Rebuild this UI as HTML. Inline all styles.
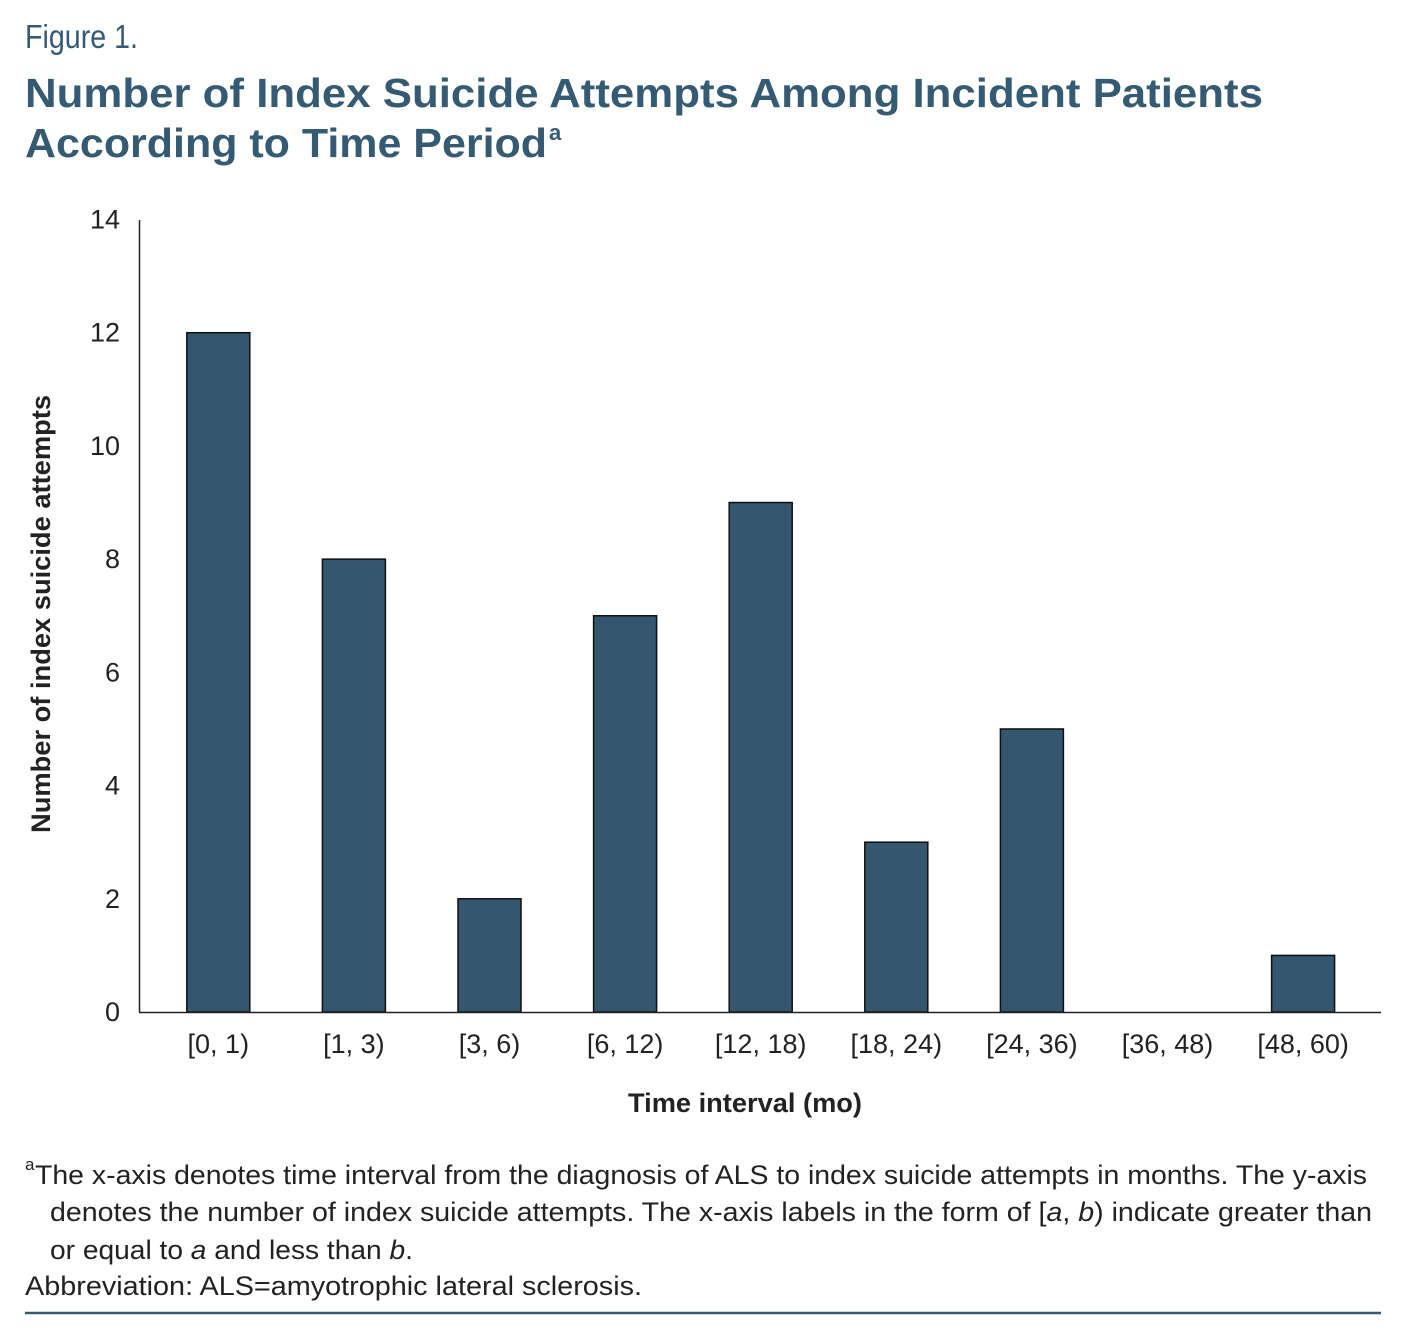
<!DOCTYPE html>
<html><head><meta charset="utf-8"><style>
html,body{margin:0;padding:0;background:#fff;}
svg{display:block;}
text{font-family:"Liberation Sans",sans-serif;}
</style></head><body>
<svg id="chart" width="1406" height="1335" viewBox="0 0 1406 1335" xmlns="http://www.w3.org/2000/svg">
<text x="25" y="48" font-size="33" fill="#355a74" textLength="113" lengthAdjust="spacingAndGlyphs">Figure 1.</text>
<text x="25" y="107" font-size="41" font-weight="bold" fill="#355a74" textLength="1238" lengthAdjust="spacingAndGlyphs">Number of Index Suicide Attempts Among Incident Patients</text>
<text x="25" y="157" font-size="41" font-weight="bold" fill="#355a74" textLength="522" lengthAdjust="spacingAndGlyphs">According to Time Period</text>
<text x="549" y="140" font-size="22" font-weight="bold" fill="#355a74">a</text>
<g id="plot"></g>
<line x1="139.5" y1="220" x2="139.5" y2="1012" stroke="#222" stroke-width="1.5"/>
<line x1="139" y1="1012.5" x2="1381" y2="1012.5" stroke="#222" stroke-width="1.5"/>
<text x="745" y="1112" font-size="27" font-weight="bold" fill="#222" text-anchor="middle" textLength="234" lengthAdjust="spacingAndGlyphs">Time interval (mo)</text>
<text transform="translate(50,614) rotate(-90)" font-size="27" font-weight="bold" fill="#222" text-anchor="middle" textLength="438" lengthAdjust="spacingAndGlyphs">Number of index suicide attempts</text>
<g font-size="27" fill="#222">
<text x="25" y="1170" font-size="17">a</text>
<text x="35" y="1184" textLength="1332" lengthAdjust="spacingAndGlyphs">The x-axis denotes time interval from the diagnosis of ALS to index suicide attempts in months. The y-axis</text>
<text x="50" y="1221" textLength="1322" lengthAdjust="spacingAndGlyphs">denotes the number of index suicide attempts. The x-axis labels in the form of [<tspan font-style="italic">a</tspan>, <tspan font-style="italic">b</tspan>) indicate greater than</text>
<text x="50" y="1259" textLength="363" lengthAdjust="spacingAndGlyphs">or equal to <tspan font-style="italic">a</tspan> and less than <tspan font-style="italic">b</tspan>.</text>
<text x="25" y="1295" textLength="617" lengthAdjust="spacingAndGlyphs">Abbreviation: ALS=amyotrophic lateral sclerosis.</text>
</g>
<line x1="25" y1="1313" x2="1381" y2="1313" stroke="#355a74" stroke-width="2.5"/>
</svg>
<script>
const categories = ["[0, 1)","[1, 3)","[3, 6)","[6, 12)","[12, 18)","[18, 24)","[24, 36)","[36, 48)","[48, 60)"];
const values = [12, 8, 2, 7, 9, 3, 5, 0, 1];
const yTicks = [0, 2, 4, 6, 8, 10, 12, 14];
const NS = "http://www.w3.org/2000/svg";
const y0 = 1012, yTop = 219.5, yMax = 14;
function yScale(v){ return y0 - (y0 - yTop) * v / yMax; }
const xStart = 150.5, step = 135.6;
function xScale(i){ return xStart + step * (i + 0.5); }
const barW = 63;
const plot = document.getElementById('plot');
yTicks.forEach(t => {
  const tx = document.createElementNS(NS, 'text');
  
  
  tx.setAttribute('x', 120); tx.setAttribute('y', yScale(t) + 9);
  tx.setAttribute('font-size', '27'); tx.setAttribute('fill', '#222');
  tx.setAttribute('text-anchor', 'end');
  tx.textContent = t;
  plot.appendChild(tx);
});
categories.forEach((c, i) => {
  const v = values[i];
  if (v > 0) {
    const r = document.createElementNS(NS, 'rect');
    
    
    r.setAttribute('x', xScale(i) - barW / 2);
    r.setAttribute('y', yScale(v));
    r.setAttribute('width', barW);
    r.setAttribute('height', y0 - yScale(v));
    r.setAttribute('fill', '#34566f');
    r.setAttribute('stroke', '#111');
    r.setAttribute('stroke-width', '1.5');
    plot.appendChild(r);
  }
  const tx = document.createElementNS(NS, 'text');
  
  
  tx.setAttribute('x', xScale(i)); tx.setAttribute('y', 1053);
  tx.setAttribute('font-size', '27'); tx.setAttribute('fill', '#222');
  tx.setAttribute('text-anchor', 'middle');
  tx.textContent = c;
  plot.appendChild(tx);
});
</script>
</body></html>
